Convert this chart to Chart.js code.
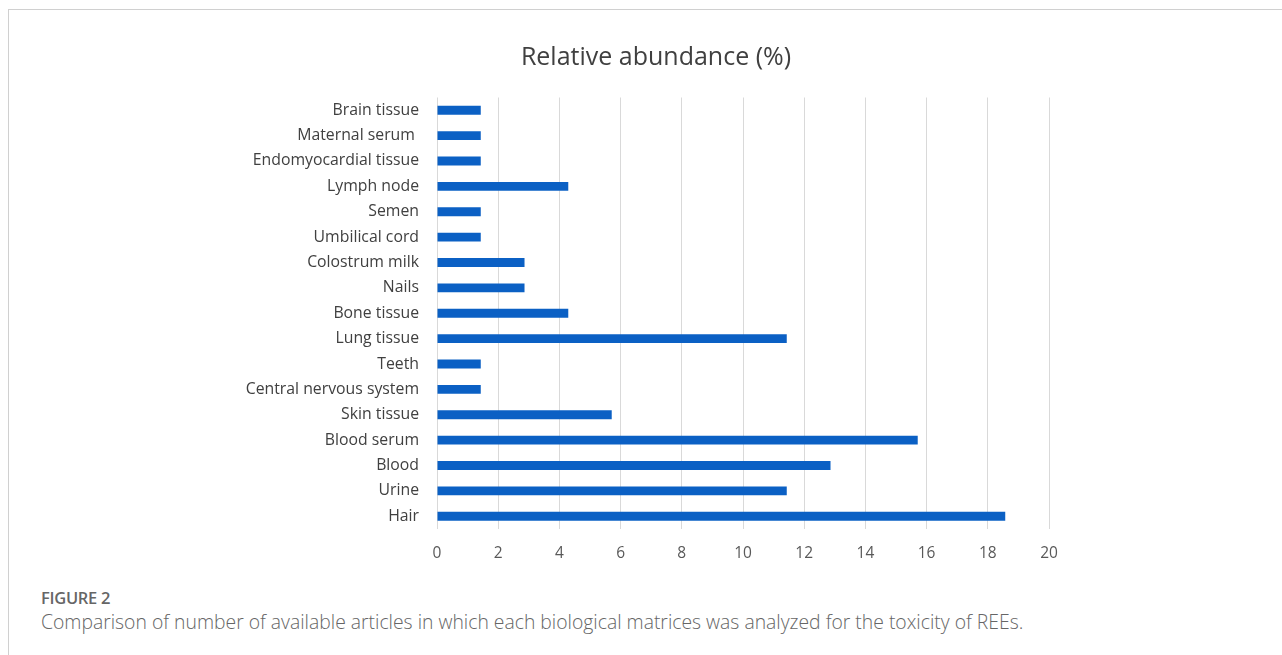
<!DOCTYPE html>
<html>
<head>
<meta charset="utf-8">
<script src="https://cdn.jsdelivr.net/npm/chart.js@4"></script>
<style>
  html, body { margin: 0; padding: 0; background: #fff; }
  body { width: 1282px; height: 655px; position: relative; overflow: hidden; font-family: "Open Sans", sans-serif; }
  #frame { position: absolute; left: 8px; top: 9px; width: 1274px; height: 646px; border-top: 1px solid #d0d0d0; border-left: 1px solid #d0d0d0; }
  #title { position: absolute; left: 356px; width: 600px; top: 38px; text-align: center; font-size: 25px; color: #404040; line-height: 34px; }
  #wrap { position: absolute; left: 0; top: 0; width: 1282px; height: 580px; }
  #figlabel { position: absolute; left: 41px; top: 587px; font-size: 16.5px; font-weight: 600; color: #666; line-height: 22px; letter-spacing: -0.3px; }
  #caption { position: absolute; left: 41px; top: 610px; font-size: 19.35px; font-weight: 300; color: #666; line-height: 24px; white-space: nowrap; }
</style>
</head>
<body>
<div id="frame"></div>
<div id="wrap"><canvas id="c"></canvas></div>
<div id="title">Relative abundance (%)</div>
<div id="figlabel">FIGURE 2</div>
<div id="caption">Comparison of number of available articles in which each biological matrices was analyzed for the toxicity of REEs.</div>
<script>
const categories = [
  "Brain tissue", "Maternal serum ", "Endomyocardial tissue", "Lymph node", "Semen",
  "Umbilical cord", "Colostrum milk", "Nails", "Bone tissue", "Lung tissue", "Teeth",
  "Central nervous system", "Skin tissue", "Blood serum", "Blood", "Urine", "Hair"
];
const abundance = [
  1.43, 1.43, 1.43, 4.29, 1.43,
  1.43, 2.86, 2.86, 4.29, 11.43, 1.43,
  1.43, 5.71, 15.71, 12.86, 11.43, 18.57
];
const xTicks = [0, 2, 4, 6, 8, 10, 12, 14, 16, 18, 20];

new Chart(document.getElementById('c'), {
  type: 'bar',
  data: {
    labels: categories,
    datasets: [{
      data: abundance,
      backgroundColor: '#0B60C4',
      borderWidth: 0,
      categoryPercentage: 1,
      barPercentage: 0.35
    }]
  },
  options: {
    indexAxis: 'y',
    responsive: true,
    maintainAspectRatio: false,
    animation: false,
    layout: { padding: { left: 0, right: 233, top: 97.5, bottom: 0 } },
    plugins: { legend: { display: false }, title: { display: false }, tooltip: { enabled: false } },
    scales: {
      x: {
        min: 0, max: 20,
        afterBuildTicks: (s) => { s.ticks = xTicks.map(v => ({ value: v })); },
        afterFit: (s) => { s.height = 51; },
        grid: { color: '#d9d9d9', drawTicks: false, lineWidth: 1 },
        border: { display: false },
        ticks: { padding: 15, color: '#595959', font: { family: 'Open Sans', size: 15.5 } }
      },
      y: {
        afterFit: (s) => { s.width = 437; },
        grid: { display: false, drawTicks: false },
        border: { display: false },
        ticks: { padding: 18, color: '#404040', font: { family: 'Open Sans', size: 15.8 } }
      }
    }
  }
});
</script>
</body>
</html>
